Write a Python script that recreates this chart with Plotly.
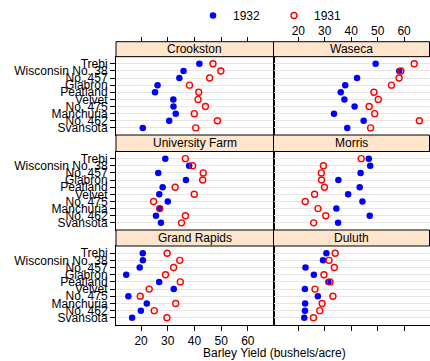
import plotly.graph_objects as go

varieties = ["Svansota", "No. 462", "Manchuria", "No. 475", "Velvet",
             "Peatland", "Glabron", "No. 457", "Wisconsin No. 38", "Trebi"]
sites = ["Crookston", "Waseca", "University Farm", "Morris", "Grand Rapids", "Duluth"]
years = ["1932", "1931"]

# yields in order of `varieties`
y1932 = {
    "Crookston":       [20.63, 30.53, 32.97, 32.13, 32.07, 25.23, 26.17, 34.33, 35.90, 41.83],
    "Waseca":          [38.50, 44.70, 33.47, 41.27, 37.40, 36.03, 37.73, 42.20, 58.17, 49.23],
    "University Farm": [27.43, 25.57, 26.90, 30.00, 26.80, 28.07, 36.80, 26.43, 38.00, 29.07],
    "Morris":          [35.03, 47.00, 34.37, 44.23, 38.83, 43.20, 35.13, 43.53, 47.17, 46.63],
    "Grand Rapids":    [16.63, 19.90, 22.13, 15.23, 32.23, 26.77, 14.43, 19.47, 20.67, 20.63],
    "Duluth":          [22.23, 22.50, 22.57, 27.37, 22.47, 31.37, 25.87, 22.70, 29.33, 30.60],
}
y1931 = {
    "Crookston":       [40.47, 48.57, 39.93, 44.10, 41.33, 41.60, 38.13, 45.67, 49.87, 46.93],
    "Waseca":          [47.33, 65.77, 48.87, 46.77, 50.23, 48.57, 55.20, 58.10, 58.80, 63.83],
    "University Farm": [35.13, 36.60, 27.00, 24.67, 39.90, 32.77, 43.07, 43.27, 39.30, 36.57],
    "Morris":          [25.77, 30.37, 27.43, 22.60, 26.13, 29.87, 28.77, 28.70, 29.47, 43.77],
    "Grand Rapids":    [29.67, 24.93, 32.97, 19.70, 23.03, 34.70, 29.13, 32.17, 34.47, 29.77],
    "Duluth":          [25.70, 28.10, 28.97, 33.07, 26.30, 32.00, 29.67, 33.60, 31.60, 33.93],
}
xticks = [20, 30, 40, 50, 60]

W, H = 430, 361
FONT = "Liberation Sans, Arial, sans-serif"

def px(x):
    return x / W

def py(y):
    return 1 - y / H

col_x = [(116, 273.5), (273.5, 429.5)]
rows = [  # (strip_top, strip_bottom/panel_top, panel_bottom)
    (41.7, 56.7, 135.0),
    (135.0, 151.5, 230.0),
    (230.0, 246.0, 325.0),
]
xrange_ = [10.6, 69.6]
yrange_ = [0.0, 11.0]
yvals = list(range(1, len(varieties) + 1))

fig = go.Figure()
layout = dict(
    width=W, height=H,
    margin=dict(l=0, r=0, t=0, b=0),
    paper_bgcolor="white", plot_bgcolor="white",
    font=dict(family=FONT, size=12, color="black"),
    shapes=[], annotations=[],
)

for i, site in enumerate(sites):
    r, c = divmod(i, 2)
    k = "" if i == 0 else str(i + 1)
    st, pt, pb = rows[r]
    x0, x1 = col_x[c]
    for yr, data, col, sym in [("1932", y1932, "#0000ff", "circle"),
                               ("1931", y1931, "#ff0000", "circle-open")]:
        fig.add_trace(go.Scatter(
            x=data[site], y=yvals, mode="markers",
            name=yr, legendgroup=yr, showlegend=(i == 0),
            marker=dict(color=col, symbol=sym, size=6.5 if sym == "circle" else 6,
                        line=dict(color=col, width=1.4 if sym == "circle-open" else 0)),
            xaxis="x" + k, yaxis="y" + k, cliponaxis=False,
        ))
    xa = dict(domain=[px(x0), px(x1)], range=xrange_, anchor="y" + k,
              showline=True, mirror=True, linecolor="black", linewidth=1,
              showgrid=False, zeroline=False, tickvals=xticks,
              tickfont=dict(size=12), ticklen=5, tickcolor="black")
    if r == 2:
        xa.update(ticks="outside", showticklabels=(c == 0))
    else:
        xa.update(ticks="", showticklabels=False)
    ya = dict(domain=[py(pb), py(pt)], range=yrange_, anchor="x" + k,
              showline=True, mirror=True, linecolor="black", linewidth=1,
              showgrid=True, gridcolor="#e6e6e6", gridwidth=1, zeroline=False,
              tickvals=yvals, ticktext=varieties, tickfont=dict(size=12),
              ticklen=5, tickcolor="black")
    if c == 0:
        ya.update(ticks="outside", showticklabels=True)
    else:
        ya.update(ticks="", showticklabels=False)
    layout["xaxis" + k] = xa
    layout["yaxis" + k] = ya
    # strip
    layout["shapes"].append(dict(type="rect", xref="paper", yref="paper",
                                 x0=px(x0), x1=px(x1), y0=py(pt), y1=py(st),
                                 fillcolor="#ffe5cc", line=dict(color="black", width=1)))
    layout["annotations"].append(dict(text=site, xref="paper", yref="paper",
                                      x=px((x0 + x1) / 2), y=py((st + pt) / 2),
                                      showarrow=False, xanchor="center", yanchor="middle",
                                      font=dict(size=12)))

# top axes above the strips
for c, (k, base, ybase) in enumerate([("7", "x", "y"), ("8", "x2", "y2")]):
    x0, x1 = col_x[c]
    layout["xaxis" + k] = dict(domain=[px(x0), px(x1)], range=xrange_, overlaying=base,
                               anchor="free", position=py(rows[0][0]), side="top",
                               showline=False, showgrid=False, zeroline=False,
                               tickvals=xticks, ticks="outside", ticklen=5, tickcolor="black",
                               showticklabels=(c == 1), tickfont=dict(size=12),
                               ticklabelstandoff=-3)
    fig.add_trace(go.Scatter(x=[None], y=[None], xaxis="x" + k, yaxis=ybase,
                             showlegend=False, hoverinfo="skip"))

layout["annotations"].append(dict(text="Barley Yield (bushels/acre)", xref="paper", yref="paper",
                                  x=px(274), y=py(353), showarrow=False,
                                  xanchor="center", yanchor="middle", font=dict(size=12)))

layout["legend"] = dict(orientation="h", x=px(193), y=py(1), xanchor="left", yanchor="top",
                        bgcolor="rgba(0,0,0,0)", font=dict(size=12),
                        entrywidth=36, entrywidthmode="pixels", traceorder="normal")

fig.update_layout(**layout)
fig.write_html("out.html")
